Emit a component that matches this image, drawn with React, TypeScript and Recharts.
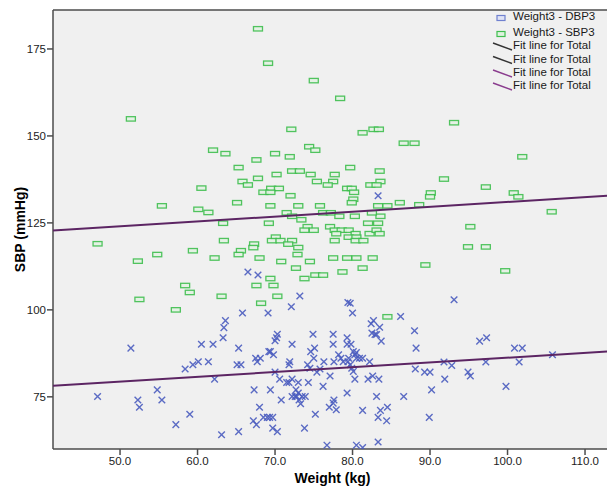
import React from "react";
import {
  ComposedChart, Scatter, XAxis, YAxis, CartesianGrid, ReferenceLine, Label,
} from "recharts";

// weight (kg), DBP (mmHg)
const dbpPoints: [number, number][] = [
  [72.1, 100.9], [79.4, 102.1], [65.8, 99.1], [69.1, 99.1], [63.6, 96.9], [63.4, 94.9], [63.3, 92.0],
  [70.3, 93.0], [70.2, 92.0], [70.0, 91.1], [74.9, 93.0], [77.5, 93.0], [79.3, 92.0], [60.5, 90.1],
  [62.0, 90.1], [72.2, 90.1], [77.5, 90.1], [79.3, 90.1], [51.4, 89.0], [65.3, 89.0], [75.1, 89.0],
  [74.6, 88.0], [69.2, 88.0], [69.4, 88.0], [69.8, 87.1], [78.2, 87.1], [78.5, 86.1], [67.5, 86.1],
  [68.1, 86.1], [67.7, 85.1], [75.0, 86.1], [60.1, 85.1], [59.4, 84.2], [61.4, 85.1], [71.9, 85.1],
  [71.8, 84.2], [76.3, 85.1], [77.6, 85.1], [78.8, 85.1], [79.4, 85.1], [65.1, 84.2], [65.6, 84.2],
  [74.2, 84.2], [74.5, 83.2], [58.4, 83.0], [75.8, 83.0], [75.4, 82.1], [70.0, 82.1], [77.1, 81.0],
  [62.2, 80.1], [70.6, 80.1], [71.5, 79.1], [71.8, 79.1], [72.2, 80.1], [73.0, 79.1], [74.3, 79.1],
  [76.2, 78.0], [54.8, 77.0], [67.3, 77.0], [69.4, 77.0], [72.7, 77.0], [73.0, 76.1], [72.8, 75.1],
  [79.3, 76.1], [47.1, 75.1], [52.3, 74.1], [52.5, 72.0], [55.4, 74.1], [70.8, 74.1], [72.2, 75.1],
  [72.6, 75.1], [73.5, 75.1], [73.9, 75.1], [73.1, 74.1], [73.3, 73.0], [68.0, 72.0], [77.6, 74.1],
  [77.5, 73.2], [77.0, 72.0], [77.9, 71.3], [59.0, 70.0], [75.2, 70.0], [68.5, 69.1], [69.0, 69.1],
  [69.3, 69.1], [69.7, 69.1], [67.2, 68.1], [67.6, 67.0], [57.2, 67.0], [69.7, 66.0], [70.3, 65.0],
  [73.8, 66.0], [65.3, 65.0], [63.1, 64.1], [76.7, 61.1],
  [66.5, 110.9], [67.8, 110.0], [73.2, 104.0], [83.3, 132.8], [79.7, 101.9], [80.0, 99.1], [93.1, 102.9],
  [86.2, 98.1], [82.7, 96.9], [82.4, 96.0], [83.5, 95.0], [82.5, 93.3], [82.9, 92.9], [83.1, 92.9],
  [83.7, 91.0], [79.8, 90.1], [88.0, 94.0], [88.2, 89.0], [96.4, 91.0], [97.3, 92.0], [100.9, 89.0],
  [101.9, 89.0], [80.1, 88.0], [80.5, 87.7], [80.3, 87.1], [79.5, 86.1], [80.5, 86.1], [80.9, 86.1],
  [81.3, 86.1], [82.2, 85.1], [79.7, 84.2], [79.9, 83.2], [80.1, 82.3], [88.1, 83.0], [91.8, 85.0],
  [92.8, 84.0], [97.2, 85.0], [101.5, 85.0], [105.8, 87.1], [89.3, 82.1], [90.0, 82.1], [94.9, 82.1],
  [95.2, 81.0], [80.3, 80.1], [82.0, 80.1], [82.6, 81.0], [83.4, 80.1], [91.9, 80.1], [99.8, 78.0],
  [90.2, 77.0], [83.1, 75.1], [86.6, 75.1], [81.3, 71.1], [83.6, 71.1], [84.5, 72.0], [83.3, 69.1],
  [84.4, 68.1], [89.9, 69.1], [83.3, 62.0], [80.5, 61.1], [81.3, 60.4],
];

// weight (kg), SBP (mmHg)
const sbpPoints: [number, number][] = [
  [67.8, 180.8], [69.1, 170.9], [75.0, 165.9], [51.4, 154.9], [72.1, 151.9], [74.4, 146.9], [75.2, 145.9],
  [62.0, 145.9], [63.6, 144.9], [67.6, 143.1], [70.0, 144.9], [71.9, 144.0], [78.4, 160.8], [81.3, 150.9],
  [82.7, 151.9], [83.4, 151.9], [93.1, 153.8], [86.6, 147.9], [88.0, 147.9], [101.9, 144.0],
  [60.5, 135.0], [55.4, 129.9], [60.1, 128.9], [61.4, 128.0], [63.3, 124.9], [47.1, 119.0], [63.4, 119.9],
  [52.3, 114.0], [54.8, 115.9], [59.4, 117.0], [62.2, 114.9], [58.4, 107.0], [59.0, 105.0], [63.1, 103.9],
  [52.5, 103.0], [57.2, 100.0], [68.2, 101.9],
  [65.3, 140.9], [79.7, 140.9], [83.5, 139.9], [70.2, 138.9], [72.2, 139.9], [73.2, 139.9], [74.6, 138.9],
  [77.7, 138.9], [67.8, 137.8], [65.8, 136.9], [66.5, 135.9], [75.4, 136.9], [77.5, 136.9], [76.8, 135.9],
  [83.6, 136.9], [82.3, 135.9], [83.1, 135.9], [69.5, 134.9], [70.5, 134.9], [68.5, 133.8], [69.4, 133.8],
  [79.3, 134.9], [79.9, 134.9], [80.2, 133.8], [72.0, 132.8], [65.1, 130.8], [80.1, 131.8], [79.9, 130.8],
  [69.4, 129.9], [73.0, 129.9], [75.8, 129.9], [83.3, 129.9], [84.5, 129.9], [86.1, 130.8], [71.5, 127.9],
  [76.2, 127.9], [77.2, 127.9], [72.2, 126.9], [78.3, 126.9], [80.3, 126.9], [83.6, 126.9], [82.5, 127.9],
  [73.4, 125.9], [69.2, 124.9], [82.0, 124.9], [83.3, 124.9], [74.2, 123.9], [77.1, 123.9], [73.8, 122.9],
  [75.0, 122.9], [77.7, 122.9], [78.6, 122.9], [79.5, 122.9], [77.9, 121.9], [80.4, 121.9], [82.2, 121.9],
  [83.1, 122.9], [83.5, 121.9], [79.5, 120.9], [80.5, 120.9], [70.1, 120.9], [69.6, 119.9], [70.7, 119.9],
  [72.2, 119.9], [71.7, 118.9], [77.7, 119.9], [80.4, 119.9], [81.4, 119.9], [67.3, 118.9], [67.2, 117.9],
  [65.6, 117.0], [65.3, 115.9], [73.0, 117.9], [72.9, 115.9], [68.0, 114.9], [70.8, 113.9], [74.5, 113.9],
  [77.5, 114.9], [79.3, 114.9], [80.5, 114.9], [82.6, 114.9], [72.7, 112.0], [75.2, 110.0], [76.2, 110.0],
  [78.7, 110.9], [81.3, 112.0], [69.4, 109.0], [73.8, 109.0], [67.6, 107.0], [69.8, 107.0], [70.3, 103.9],
  [84.5, 98.0],
  [91.8, 137.6], [88.6, 130.2], [90.1, 133.6], [90.0, 132.5], [97.2, 135.3], [100.8, 133.6], [101.4, 132.5],
  [95.2, 123.9], [94.9, 118.1], [97.2, 118.1], [89.4, 112.9], [99.7, 111.2], [105.7, 128.2],
];

// fit line end points (weight, mmHg)
const sbpFit = [{ x: 41.35, y: 122.8 }, { x: 113.5, y: 132.9 }];
const dbpFit = [{ x: 41.35, y: 78.2 }, { x: 113.5, y: 88.1 }];

const xTicks = [50, 60, 70, 80, 90, 100, 110];
const yTicks = [75, 100, 125, 150, 175];
const legendLabels = ["Weight3 - DBP3", "Weight3 - SBP3", "Fit line for Total", "Fit line for Total", "Fit line for Total", "Fit line for Total"];

const dbpData = dbpPoints.map(([x, y]) => ({ x, y }));
const sbpData = sbpPoints.map(([x, y]) => ({ x, y }));

const FONT = "'Liberation Sans', Arial, sans-serif";
const BLUE = "#4a5cbf";
const GREEN = "#3fbf4f";
const FIT = "#5c2563";

function Cross(props: any) {
  const { cx, cy } = props;
  const r = 3.3;
  return (
    <path
      d={`M${cx - r},${cy - r}L${cx + r},${cy + r}M${cx + r},${cy - r}L${cx - r},${cy + r}`}
      stroke={BLUE} strokeWidth={1.4} fill="none" opacity={0.9}
    />
  );
}

function Box(props: any) {
  const { cx, cy } = props;
  return <rect x={cx - 4.5} y={cy - 2.2} width={9} height={4.4} fill="#e4f2e4" stroke={GREEN} strokeWidth={1.3} opacity={0.9} />;
}

const NoDot = () => <g />;

function LegendBox() {
  const rowY = [15, 31, 44, 57.5, 71, 84];
  return (
    <div style={{ position: "absolute", left: 490, top: 11, width: 117, height: 92, fontFamily: FONT, fontSize: 11.5, color: "#1a1a1a" }}>
      <svg width={117} height={92} style={{ position: "absolute", left: 0, top: 0 }}>
        <rect x={7} y={rowY[0] - 8 - 2.5} width={8} height={5} fill="#dfe3f5" stroke="#6f80cf" strokeWidth={1.2} />
        <rect x={7} y={rowY[1] - 8 - 2.5} width={8} height={5} fill="#dff2df" stroke={GREEN} strokeWidth={1.2} />
        {[2, 3, 4, 5].map((i) => (
          <line key={i} x1={3} y1={rowY[i] - 12} x2={22} y2={rowY[i] - 5}
            stroke={i < 4 ? "#333" : "#8a3c8e"} strokeWidth={1.5} />
        ))}
      </svg>
      {legendLabels.map((t, i) => (
        <div key={i} style={{ position: "absolute", left: 23, top: rowY[i] - 16, lineHeight: "13px", whiteSpace: "nowrap" }}>
          {t}
        </div>
      ))}
    </div>
  );
}

export default function App() {
  return (
    <div style={{ position: "fixed", left: 0, top: 0, width: 607, height: 486, overflow: "hidden", background: "#fff" }}>
      <ComposedChart width={620} height={486} margin={{ top: 10, right: 8, bottom: 0, left: 0 }}>
        <CartesianGrid fill="#f0f0f0" stroke="none" horizontal={false} vertical={false} />
        <XAxis
          type="number" dataKey="x" domain={[41.35, 113.48]} ticks={xTicks} allowDataOverflow
          tickFormatter={(v: number) => v.toFixed(1)} height={37}
          tick={{ fill: "#222", fontSize: 11.5, fontFamily: FONT }}
          tickSize={6} tickMargin={2}
          axisLine={{ stroke: "#4d4d4d", strokeWidth: 1.5 }} tickLine={{ stroke: "#4d4d4d", strokeWidth: 1.5 }}
        >
          <Label value="Weight (kg)" position="insideBottom" offset={3}
            style={{ fontFamily: FONT, fontSize: 14, fontWeight: "bold", fill: "#000" }} />
        </XAxis>
        <YAxis
          type="number" dataKey="y" domain={[60, 186.2]} ticks={yTicks} allowDataOverflow width={53}
          tick={{ fill: "#222", fontSize: 11.5, fontFamily: FONT }}
          tickSize={6} tickMargin={1}
          axisLine={{ stroke: "#4d4d4d", strokeWidth: 1.5 }} tickLine={{ stroke: "#4d4d4d", strokeWidth: 1.5 }}
        >
          <Label value="SBP (mmHg)" angle={-90} position="insideLeft" offset={20}
            style={{ fontFamily: FONT, fontSize: 14, fontWeight: "bold", fill: "#000", textAnchor: "middle" }} />
        </YAxis>
        <ReferenceLine y={186.2} stroke="#4d4d4d" strokeWidth={1.5} />
        <Scatter data={dbpData} shape={Cross} isAnimationActive={false} />
        <Scatter data={sbpData} shape={Box} isAnimationActive={false} />
        <Scatter data={sbpFit} shape={NoDot} line={{ stroke: FIT, strokeWidth: 2 }} isAnimationActive={false} />
        <Scatter data={dbpFit} shape={NoDot} line={{ stroke: FIT, strokeWidth: 2 }} isAnimationActive={false} />
      </ComposedChart>
      <LegendBox />
    </div>
  );
}
